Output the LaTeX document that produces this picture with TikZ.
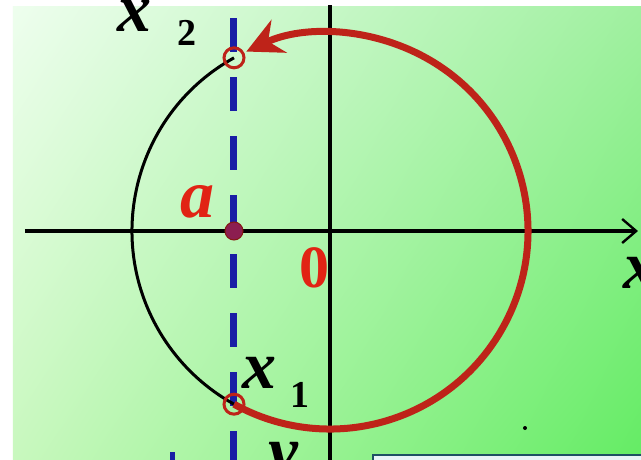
\documentclass[tikz,border=0pt]{standalone}
\usepackage{fontspec}
\setmainfont{Liberation Serif}
\usepackage{tikz}
\usetikzlibrary{arrows.meta,positioning,calc,shadings}
\definecolor{arcred}{RGB}{190,35,25}
\definecolor{labelred}{RGB}{225,35,20}
\definecolor{dashblue}{RGB}{25,30,165}
\definecolor{dotpurple}{RGB}{140,30,80}
\definecolor{boxedge}{RGB}{30,80,100}
\definecolor{boxfill}{RGB}{232,244,248}
\definecolor{bgpale}{RGB}{238,254,238}
\definecolor{bgtop}{RGB}{160,240,160}
\definecolor{bgleft}{RGB}{200,248,190}
\definecolor{bggreen}{RGB}{100,236,100}

\begin{document}
\begin{tikzpicture}[x=1pt, y=1pt,
    axis/.style={line width=3.4pt, black},
    ringmark/.style={circle, draw=arcred, line width=3pt, minimum size=20pt, inner sep=0pt},
    varlabel/.style={font=\bfseries\itshape\fontsize{68}{68}\selectfont, inner sep=0pt, anchor=base west},
    sublabel/.style={font=\bfseries\fontsize{38}{38}\selectfont, inner sep=0pt, anchor=base west},
    >=Stealth
]
\useasboundingbox (-330,-228) rectangle (311,231);
\fill[white] (-330,-228) rectangle (311,231);
\shade[upper left=bgpale, upper right=bgtop, lower left=bgleft, lower right=bggreen]
    (-317,-228) rectangle (311,225);

\coordinate (O) at (0,0);
\coordinate (xl) at (-305,0);
\coordinate (xr) at (308,0);
\coordinate (yb) at (0,-230);
\coordinate (yt) at (0,226);
\coordinate (a) at (-96,0);
\coordinate (dtop) at (-96,225);
\coordinate (dbot) at (-96,-230);
\coordinate (x2) at (119:198);
\coordinate (x1) at (241:198);

% axes
\draw[axis, -{Straight Barb[length=14pt, width=24pt, line width=2.4pt]}] (xl) -- (xr);
\draw[axis] (yb) -- (yt);

% line x = a
\draw[dashblue, line width=7pt, dash pattern=on 34pt off 25pt, dash phase=47pt] (dtop) -- (dbot);

% circle
\draw[line width=3pt] (x2) arc[start angle=119, end angle=241, radius=198];
\draw[arcred, line width=7pt, -{Stealth[length=36pt, width=36pt, inset=12pt]}]
    (x1) arc[start angle=241, end angle=475, radius=198];

\node[ringmark] (m2) at (x2) {};
\node[ringmark] (m1) at (x1) {};
\node[circle, fill=dotpurple, draw=arcred!70!black, line width=1pt, minimum size=18pt, inner sep=0pt] (adot) at (a) {};

% labels
\node[varlabel, text=labelred] (alab) at (-150,14) {a};
\node[font=\bfseries\fontsize{60}{60}\selectfont, text=labelred, inner sep=0pt, anchor=base west] (zero) at (-31,-56) {0};
\node[varlabel] (x2lab) at (-213,200) {x};
\node[sublabel] (x2sub) at (-153,186) {2};
\node[varlabel] (x1lab) at (-88,-157) {x};
\node[sublabel] (x1sub) at (-40,-176) {1};
\node[varlabel] (ylab) at (-62,-242) {y};
\node[varlabel] (xlab) at (293,-57) {x};

% cut-off bits at the bottom
\draw[boxedge, line width=2.4pt, fill=boxfill] (43,-224) rectangle (330,-240);
\draw[dashblue, line width=5pt] (-157,-221) -- (-157,-232);
\fill (195,-197) circle (2);
\end{tikzpicture}
\end{document}
